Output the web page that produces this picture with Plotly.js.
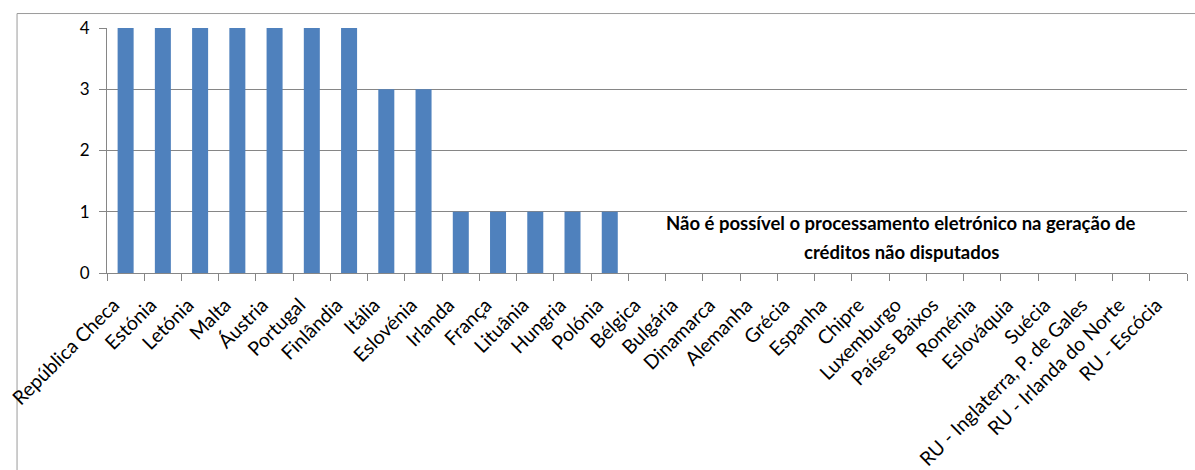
<!DOCTYPE html>
<html>
<head>
<meta charset="utf-8">
<script src="https://cdn.plot.ly/plotly-3.0.1.min.js"></script>
<style>html,body{margin:0;padding:0;background:#fff;}#chart{width:1195px;height:470px;}</style>
</head>
<body>
<div id="chart"></div>
<script>
const categories = ["República Checa","Estónia","Letónia","Malta","Áustria","Portugal","Finlândia","Itália","Eslovénia","Irlanda","França","Lituânia","Hungria","Polónia","Bélgica","Bulgária","Dinamarca","Alemanha","Grécia","Espanha","Chipre","Luxemburgo","Países Baixos","Roménia","Eslováquia","Suécia","RU - Inglaterra, P. de Gales","RU - Irlanda do Norte","RU - Escócia"];
const values = [4,4,4,4,4,4,4,3,3,1,1,1,1,1,0,0,0,0,0,0,0,0,0,0,0,0,0,0,0];
const yTicks = [0,1,2,3,4];
const noteLines = ["Não é possível o processamento eletrónico na geração de", "créditos não disputados"];

const font = "Lato, 'Open Sans', 'DejaVu Sans', sans-serif";
const trace = {
  type: 'bar',
  x: categories,
  y: values,
  marker: {color: '#4F81BD'},
  hoverinfo: 'x+y'
};
const noteY = [0.815, 0.345];
const layout = {
  width: 1195, height: 470,
  margin: {l: 107, r: 8, t: 27.5, b: 197},
  paper_bgcolor: '#ffffff', plot_bgcolor: '#ffffff',
  bargap: 0.57,
  showlegend: false,
  font: {family: font, color: '#000', size: 15},
  xaxis: {
    type: 'category',
    tickangle: -45,
    tickfont: {family: font, size: 19.5, color: '#000'},
    showgrid: false,
    showline: true, linecolor: '#868686', linewidth: 1,
    ticks: 'outside', ticklen: 7, tickcolor: '#868686',
    tickson: 'boundaries',
    zeroline: false,
    ticklabelstandoff: 12,
    ticklabelshift: -12
  },
  yaxis: {
    range: [0, 4],
    tickvals: yTicks,
    ticktext: yTicks.map(String),
    tickfont: {family: font, size: 17, color: '#000'},
    showgrid: true, gridcolor: '#868686', gridwidth: 1,
    showline: true, linecolor: '#868686', linewidth: 1,
    ticks: 'outside', ticklen: 7, tickcolor: '#868686',
    zeroline: false,
    ticklabelstandoff: 6
  },
  annotations: noteLines.map((t, i) => ({
    xref: 'paper', yref: 'y',
    x: 0.7355, y: noteY[i],
    xanchor: 'center', yanchor: 'middle',
    text: '<b>' + t + '</b>',
    showarrow: false,
    align: 'center',
    font: {family: font, size: 18.5, color: '#000'}
  })),
  shapes: [{
    type: 'rect', xref: 'paper', yref: 'paper',
    x0: -0.0833, x1: 1.5, y0: -2, y1: 1.059,
    line: {color: '#9a9a9a', width: 1},
    fillcolor: 'rgba(0,0,0,0)',
    layer: 'below'
  }]
};
Plotly.newPlot('chart', [trace], layout, {displayModeBar: false, staticPlot: true});
</script>
</body>
</html>
